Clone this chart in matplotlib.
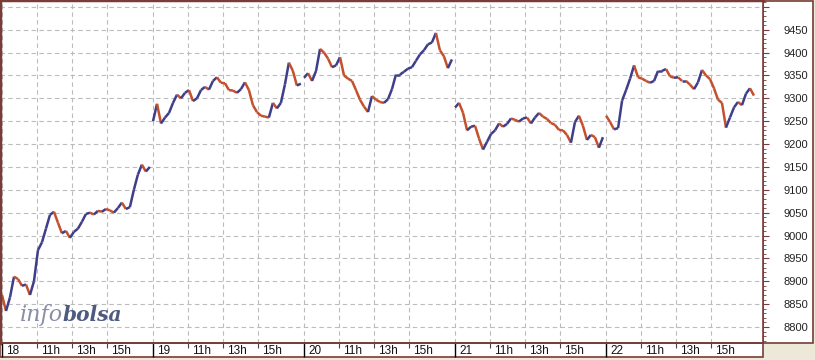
import numpy as np
import matplotlib.pyplot as plt
from matplotlib.collections import LineCollection
from matplotlib.patches import Rectangle
from matplotlib.ticker import MultipleLocator

plt.rcParams['font.family'] = ['Liberation Sans', 'DejaVu Sans']

# sesiones (dia del mes) y marcas horarias dentro de cada sesion
dias = ['18', '19', '20', '21', '22']
horas = ['11h', '13h', '15h']
horas_desde_apertura = [2, 4, 6]   # apertura a las 9h

# cierres, uno cada ~13.7 minutos
cierre_18 = [8870, 8835, 8865, 8910, 8905, 8890, 8893, 8870, 8900, 8968,
             8985, 9015, 9045, 9052, 9028, 9005, 9010, 8995, 9008, 9015,
             9030, 9047, 9050, 9046, 9054, 9052, 9058, 9055, 9050, 9060,
             9072, 9058, 9062, 9100, 9133, 9155, 9140, 9150]
cierre_19 = [9250, 9288, 9245, 9258, 9268, 9290, 9308, 9300, 9312, 9318,
             9294, 9300, 9318, 9325, 9319, 9338, 9346, 9334, 9333, 9318,
             9317, 9312, 9320, 9335, 9318, 9285, 9270, 9262, 9260, 9258,
             9290, 9278, 9290, 9330, 9378, 9360, 9328, 9332]
cierre_20 = [9345, 9355, 9338, 9360, 9408, 9400, 9387, 9368, 9372, 9390,
             9350, 9343, 9338, 9318, 9297, 9282, 9270, 9305, 9297, 9292,
             9290, 9298, 9320, 9352, 9352, 9358, 9365, 9368, 9382, 9396,
             9405, 9418, 9422, 9443, 9405, 9392, 9366, 9385]
cierre_21 = [9280, 9290, 9268, 9230, 9238, 9240, 9212, 9188, 9205, 9222,
             9230, 9245, 9238, 9244, 9256, 9253, 9249, 9256, 9258, 9245,
             9258, 9268, 9260, 9255, 9246, 9242, 9231, 9230, 9220, 9203,
             9248, 9262, 9240, 9209, 9220, 9215, 9192, 9215]
cierre_22 = [9262, 9248, 9232, 9235, 9295, 9318, 9343, 9372, 9346, 9343,
             9338, 9334, 9338, 9360, 9360, 9364, 9348, 9345, 9346, 9338,
             9338, 9330, 9320, 9335, 9362, 9350, 9342, 9322, 9297, 9290,
             9236, 9258, 9280, 9292, 9285, 9310, 9322, 9306]
cierres = [cierre_18, cierre_19, cierre_20, cierre_21, cierre_22]

sesion = 8.63            # horas de 9:00 a 17:38
minutos_por_barra = 13.7

azul = '#3e3e8a'
rojo = '#c4502c'
marron = '#7a3c38'
W, H = 815, 360

fig = plt.figure(figsize=(W / 100, H / 100), dpi=100, facecolor='#ece9d8')
ax = fig.add_axes([0, 17 / H, 763 / W, 343 / H])
ax.set_facecolor('white')

# paneles blancos de etiquetas (derecha y abajo)
fig.add_artist(Rectangle((763 / W, 17 / H), 50 / W, 342 / H, transform=fig.transFigure,
                         facecolor='white', edgecolor=marron, lw=1.2, zorder=-1))
fig.add_artist(Rectangle((0, 3 / H), 763 / W, 14 / H, transform=fig.transFigure,
                         facecolor='white', edgecolor=marron, lw=1.2, zorder=-1))

for i, vals in enumerate(cierres):
    v = np.array(vals, dtype=float)
    t = i * sesion + np.arange(len(v)) * minutos_por_barra / 60
    pts = np.column_stack([t, v])
    segs = np.stack([pts[:-1], pts[1:]], axis=1)
    cols = np.where(np.diff(v) >= 0, azul, rojo)
    ax.add_collection(LineCollection(segs, colors=cols, linewidths=1.8))

ax.set_xlim(-2 / 17.5, 761 / 17.5)
ax.set_ylim(8765, 9515)

# eje y a la derecha
ax.yaxis.tick_right()
ax.set_yticks(range(8800, 9501, 50))
ax.set_yticklabels([str(v) if v < 9500 else '' for v in range(8800, 9501, 50)])
ax.yaxis.set_minor_locator(MultipleLocator(10))
ax.tick_params(axis='y', which='major', direction='out', length=4.5, width=0.8,
               color=marron, pad=10, labelsize=8, labelcolor='#222222')
ax.tick_params(axis='y', which='minor', direction='out', length=1.8, width=0.6, color=marron)

# eje x: separadores de dia y horas
inicios = [i * sesion for i in range(len(dias))]
ticks_horas = [d + h for d in inicios for h in horas_desde_apertura]
ax.set_xticks(inicios)
ax.set_xticks(ticks_horas, minor=True)
ax.tick_params(axis='x', which='major', direction='out', length=10, width=1, color='black',
               labelbottom=False)
ax.tick_params(axis='x', which='minor', direction='out', length=3.5, width=0.8, color='#444444',
               labelbottom=False)
for d, dia in zip(inicios, dias):
    ax.annotate(dia, xy=(d, 0), xycoords=('data', 'axes fraction'), xytext=(3, -5.4),
                textcoords='offset points', ha='left', va='center', fontsize=8.5, color='#111111')
    for h, lab in zip(horas_desde_apertura, horas):
        ax.annotate(lab, xy=(d + h, 0), xycoords=('data', 'axes fraction'), xytext=(3, -5.4),
                    textcoords='offset points', ha='left', va='center', fontsize=8.5, color='#111111')

ax.grid(which='major', axis='y', color='#bcbcbc', ls=(0, (4, 3)), lw=0.8)
ax.grid(which='both', axis='x', color='#bcbcbc', ls=(0, (4, 3)), lw=0.8)
ax.set_axisbelow(True)

ax.spines['left'].set_linewidth(2.5)
ax.spines['top'].set_linewidth(2.5)
for s in ['left', 'top', 'right', 'bottom']:
    ax.spines[s].set_color(marron)
ax.spines['right'].set_linewidth(1.2)
ax.spines['bottom'].set_linewidth(1.4)

# marca de agua
fig.text(20 / W, 39 / H, 'info', family='DejaVu Serif', style='italic', fontsize=16,
         color='#8a8ea6', va='baseline')
fig.text(62 / W, 39 / H, 'bolsa', family='DejaVu Serif', style='italic', weight='bold',
         fontsize=14.5, color='#4e5a80', va='baseline')

fig.savefig('out.png', dpi=100, facecolor=fig.get_facecolor())
